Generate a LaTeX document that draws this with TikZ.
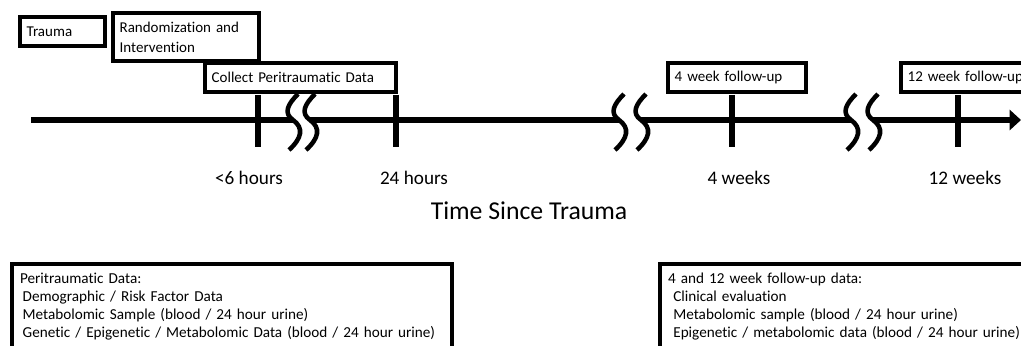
\documentclass[tikz,border=0pt]{standalone}
\usepackage{fontspec}
\setmainfont{Carlito}[Ligatures=NoCommon]
\usetikzlibrary{positioning, calc, arrows.meta}

\newcommand{\axbreak}[2]{%
  \foreach \dx in {0,#2} {
    \draw[brkline, shift={($(#1)+(\dx,0)$)}] (5,-26) .. controls (-5,-16) and (-10,-7) .. (0,0) .. controls (11,8) and (9,18) .. (-4,30);
  }}

\tikzset{
  axisline/.style={line width=5pt},
  tickmark/.style={line width=4.5pt},
  brkline/.style={line width=3.4pt},
  evtbox/.style={draw, line width=3pt, anchor=north west, align=left, inner xsep=5pt, inner ysep=0pt, font=\fontsize{11.25}{15}\selectfont},
  infobox/.style={draw, line width=3pt, anchor=north west, align=left, inner xsep=6pt, inner ysep=7pt, text depth=90pt, font=\fontsize{11.4}{13.5}\selectfont},
  timelabel/.style={font=\fontsize{14.4}{17}\selectfont}
}

\begin{document}
\begin{tikzpicture}[x=0.75pt, y=-0.75pt]
    \clip (0,0) rectangle (1021,346);

    \node[evtbox, text width=53.75pt, minimum height=21.75pt] (trauma) at (18,15) {Trauma};
    \node[evtbox, text width=99.5pt, minimum height=36pt] (random) at (111,11) {Randomization and\\Intervention};
    \node[evtbox, text width=133.25pt, minimum height=21.75pt] (collect) at (203,61) {Collect Peritraumatic Data};
    \node[evtbox, text width=93.5pt, minimum height=21.75pt] (fu4) at (666,61) {4 week follow-up};
    \node[evtbox, text width=102.5pt, minimum height=21.75pt] (fu12) at (899,61) {\mbox{12 week follow-up}};

    \coordinate (start) at (31,120);
    \coordinate (end) at (1021,120);
    \coordinate (t6) at (258,120);
    \coordinate (t24) at (396,120);
    \coordinate (t4w) at (732,120);
    \coordinate (t12w) at (958,120);
    \coordinate (bA) at (293,120);
    \coordinate (bAr) at (310,120);
    \coordinate (bB) at (619,120);
    \coordinate (bBr) at (641,120);
    \coordinate (bC) at (851,120);
    \coordinate (bCr) at (873,120);

    \draw[axisline] (start) -- (bA);
    \draw[axisline] (bAr) -- (bB);
    \draw[axisline] (bBr) -- (bC);
    \draw[axisline, -{Triangle[length=8.5pt, width=15pt]}] (bCr) -- (end);

    \foreach \t in {t6, t24, t4w, t12w}
      \draw[tickmark] ($(\t)+(0,-25)$) -- ($(\t)+(0,27)$);

    \axbreak{bA}{17}
    \axbreak{bB}{22}
    \axbreak{bC}{22}

    \node[timelabel] (l6) at (249,178) {<6 hours};
    \node[timelabel] (l24) at (414,178) {24 hours};
    \node[timelabel] (l4w) at (739,178) {4 weeks};
    \node[timelabel] (l12w) at (965,178) {12 weeks};
    \node[font=\fontsize{19.3}{23}\selectfont] (axtitle) at (529,211) {Time Since Trauma};

    \node[infobox, text width=318pt] (peridata) at (10,262) {Peritraumatic Data:\\
      \hspace{2pt}Demographic / Risk Factor Data\\
      \hspace{2pt}Metabolomic Sample (blood / 24 hour urine)\\
      \hspace{2pt}\mbox{Genetic / Epigenetic / Metabolomic Data (blood / 24 hour urine)}};
    \node[infobox, text width=288pt] (fudata) at (658,262) {4 and 12 week follow-up data:\\
      \hspace{4pt}Clinical evaluation\\
      \hspace{4pt}Metabolomic sample (blood / 24 hour urine)\\
      \hspace{4pt}\mbox{Epigenetic / metabolomic data (blood / 24 hour urine)}};
\end{tikzpicture}
\end{document}
